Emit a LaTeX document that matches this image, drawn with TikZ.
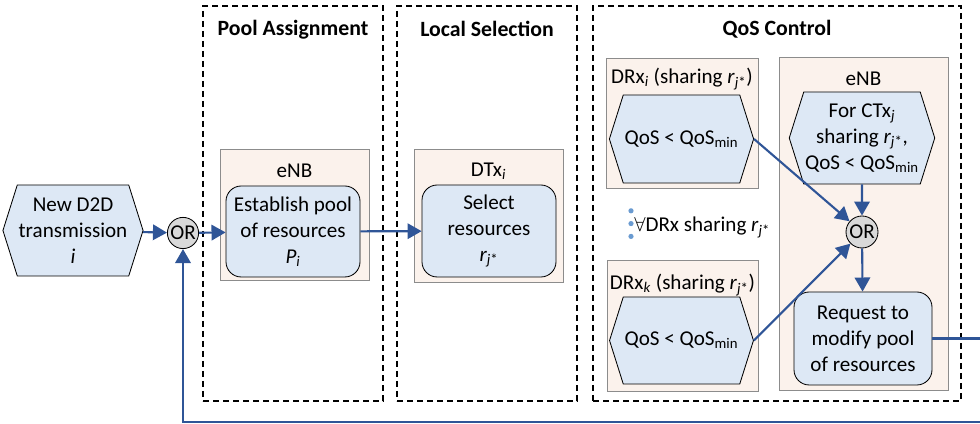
\documentclass[tikz,border=0pt]{standalone}
\usepackage{fontspec}
\setmainfont{Carlito}
\usepackage{tikz}
\usetikzlibrary{arrows.meta,positioning,calc,shapes.symbols}
\definecolor{peach}{HTML}{FBF2EC}
\definecolor{lightblue}{HTML}{DDE8F5}
\definecolor{linkblue}{HTML}{2F5597}
\definecolor{dotblue}{HTML}{6A9BD1}
\newcommand{\rjs}{\textit{r}\textsubscript{\textit{j}*}}
\newcommand{\qosmin}{QoS < QoS\textsubscript{min}}

\begin{document}
\begin{tikzpicture}[
  every node/.style={align=center, font=\fontsize{15}{18.5}\selectfont},
  phase/.style={draw, dashed, dash pattern=on 0.15cm off 0.1cm, line width=0.9pt},
  heading/.style={font=\fontsize{15.5}{18}\selectfont\bfseries},
  entity/.style={draw=black!45, fill=peach, line width=0.5pt},
  hexa/.style={draw, fill=lightblue, signal, signal to=east and west,
               signal pointer angle=145, inner sep=1pt, line width=0.6pt},
  box/.style={draw, fill=lightblue, rounded corners=0.38cm, line width=0.6pt,
              inner sep=1pt},
  orgate/.style={draw, circle, fill=black!15, minimum size=0.78cm, inner sep=0pt,
                 line width=0.6pt},
  arr/.style={-{Triangle[length=10pt, width=11pt]}, linkblue, line width=1.5pt},
]
  \useasboundingbox (0,0) rectangle (24.5,10.6);

  % Phases (dashed frames)
  \node[phase, minimum width=4.5cm, minimum height=9.875cm] (pool) at (7.325,5.5125) {};
  \node[phase, minimum width=4.5cm, minimum height=9.875cm] (local) at (12.175,5.5125) {};
  \node[phase, minimum width=9.2cm, minimum height=9.875cm] (qos) at (19.425,5.5125) {};
  \node[heading] (poolT) at ([yshift=-0.6cm]pool.north) {Pool Assignment};
  \node[heading] (localT) at ([yshift=-0.6cm]local.north) {Local Selection};
  \node[heading] (qosT) at ([yshift=-0.6cm]qos.north) {QoS Control};

  % Entities
  \node[entity, minimum width=3.725cm, minimum height=3.275cm] (enbA) at (7.3625,5.2375) {};
  \node[entity, minimum width=3.725cm, minimum height=3.325cm] (dtx) at (12.2125,5.2125) {};
  \node[entity, minimum width=3.8cm, minimum height=3.25cm] (drxi) at (17.05,7.525) {};
  \node[entity, minimum width=3.775cm, minimum height=3.275cm] (drxk) at (17.0625,2.4625) {};
  \node[entity, minimum width=4.225cm, minimum height=8.325cm] (enbQ) at (21.5875,5.0125) {};
  \node (enbAT) at (7.3625,6.325) {eNB};
  \node (dtxT) at (12.2125,6.31) {DTx\textsubscript{\textit{i}}};
  \node (drxiT) at (17.05,8.625) {DRx\textsubscript{\textit{i}} (sharing \rjs)};
  \node (drxkT) at (17.0625,3.475) {DRx\textsubscript{\textit{k}} (sharing \rjs)};
  \node (enbQT) at (21.5875,8.625) {eNB};

  % Steps
  \node[hexa, minimum width=3.25cm, minimum height=2.275cm] (new) at (1.825,4.8375)
    {New D2D\\transmission\\\textit{i}};
  \node[orgate] (orA) at (4.575,4.775) {OR};
  \node[box, minimum width=3.35cm, minimum height=2.275cm] (establish) at (7.325,4.8125)
    {Establish pool\\of resources\\\textit{P}\textsubscript{\textit{i}}};
  \node[box, minimum width=3.35cm, minimum height=2.3cm] (select) at (12.225,4.825)
    {Select\\resources\\\rjs};
  \node[hexa, minimum width=3.225cm, minimum height=2.2cm] (qosi) at (17.0375,7.125) {\qosmin};
  \node[hexa, minimum width=3.225cm, minimum height=2.175cm] (qosk) at (17.0375,2.0875) {\qosmin};
  \node[hexa, minimum width=3.45cm, minimum height=2.3cm] (ctx) at (21.55,7.15)
    {For CTx\textsubscript{\textit{j}}\\sharing \rjs,\\\qosmin};
  \node[orgate, minimum size=0.8cm] (orQ) at (21.55,4.8) {OR};
  \node[box, minimum width=3.45cm, minimum height=2.325cm] (request) at (21.575,2.1375)
    {Request to\\modify pool\\of resources};

  % All other DRx
  \foreach \y [count=\k] in {5.33,5.01,4.69}
    \fill[dotblue] (15.775,\y) circle (0.065cm) coordinate (dot\k);
  \node[anchor=west, inner sep=0pt] (others) at (15.85,4.92) {$\forall$DRx sharing \rjs};

  % Flow
  \draw[arr] (new) -- (orA);
  \draw[arr] (orA) -- (establish);
  \draw[arr] (establish) -- (select);
  \draw[arr] (qosi.east) -- (orQ);
  \draw[arr] (qosk.east) -- (orQ);
  \draw[arr] (ctx) -- (orQ);
  \draw[arr] (orQ) -- (request);
  \draw[arr] (request.east) -| (25.2,0.05) -| (orA.south);
\end{tikzpicture}
\end{document}
